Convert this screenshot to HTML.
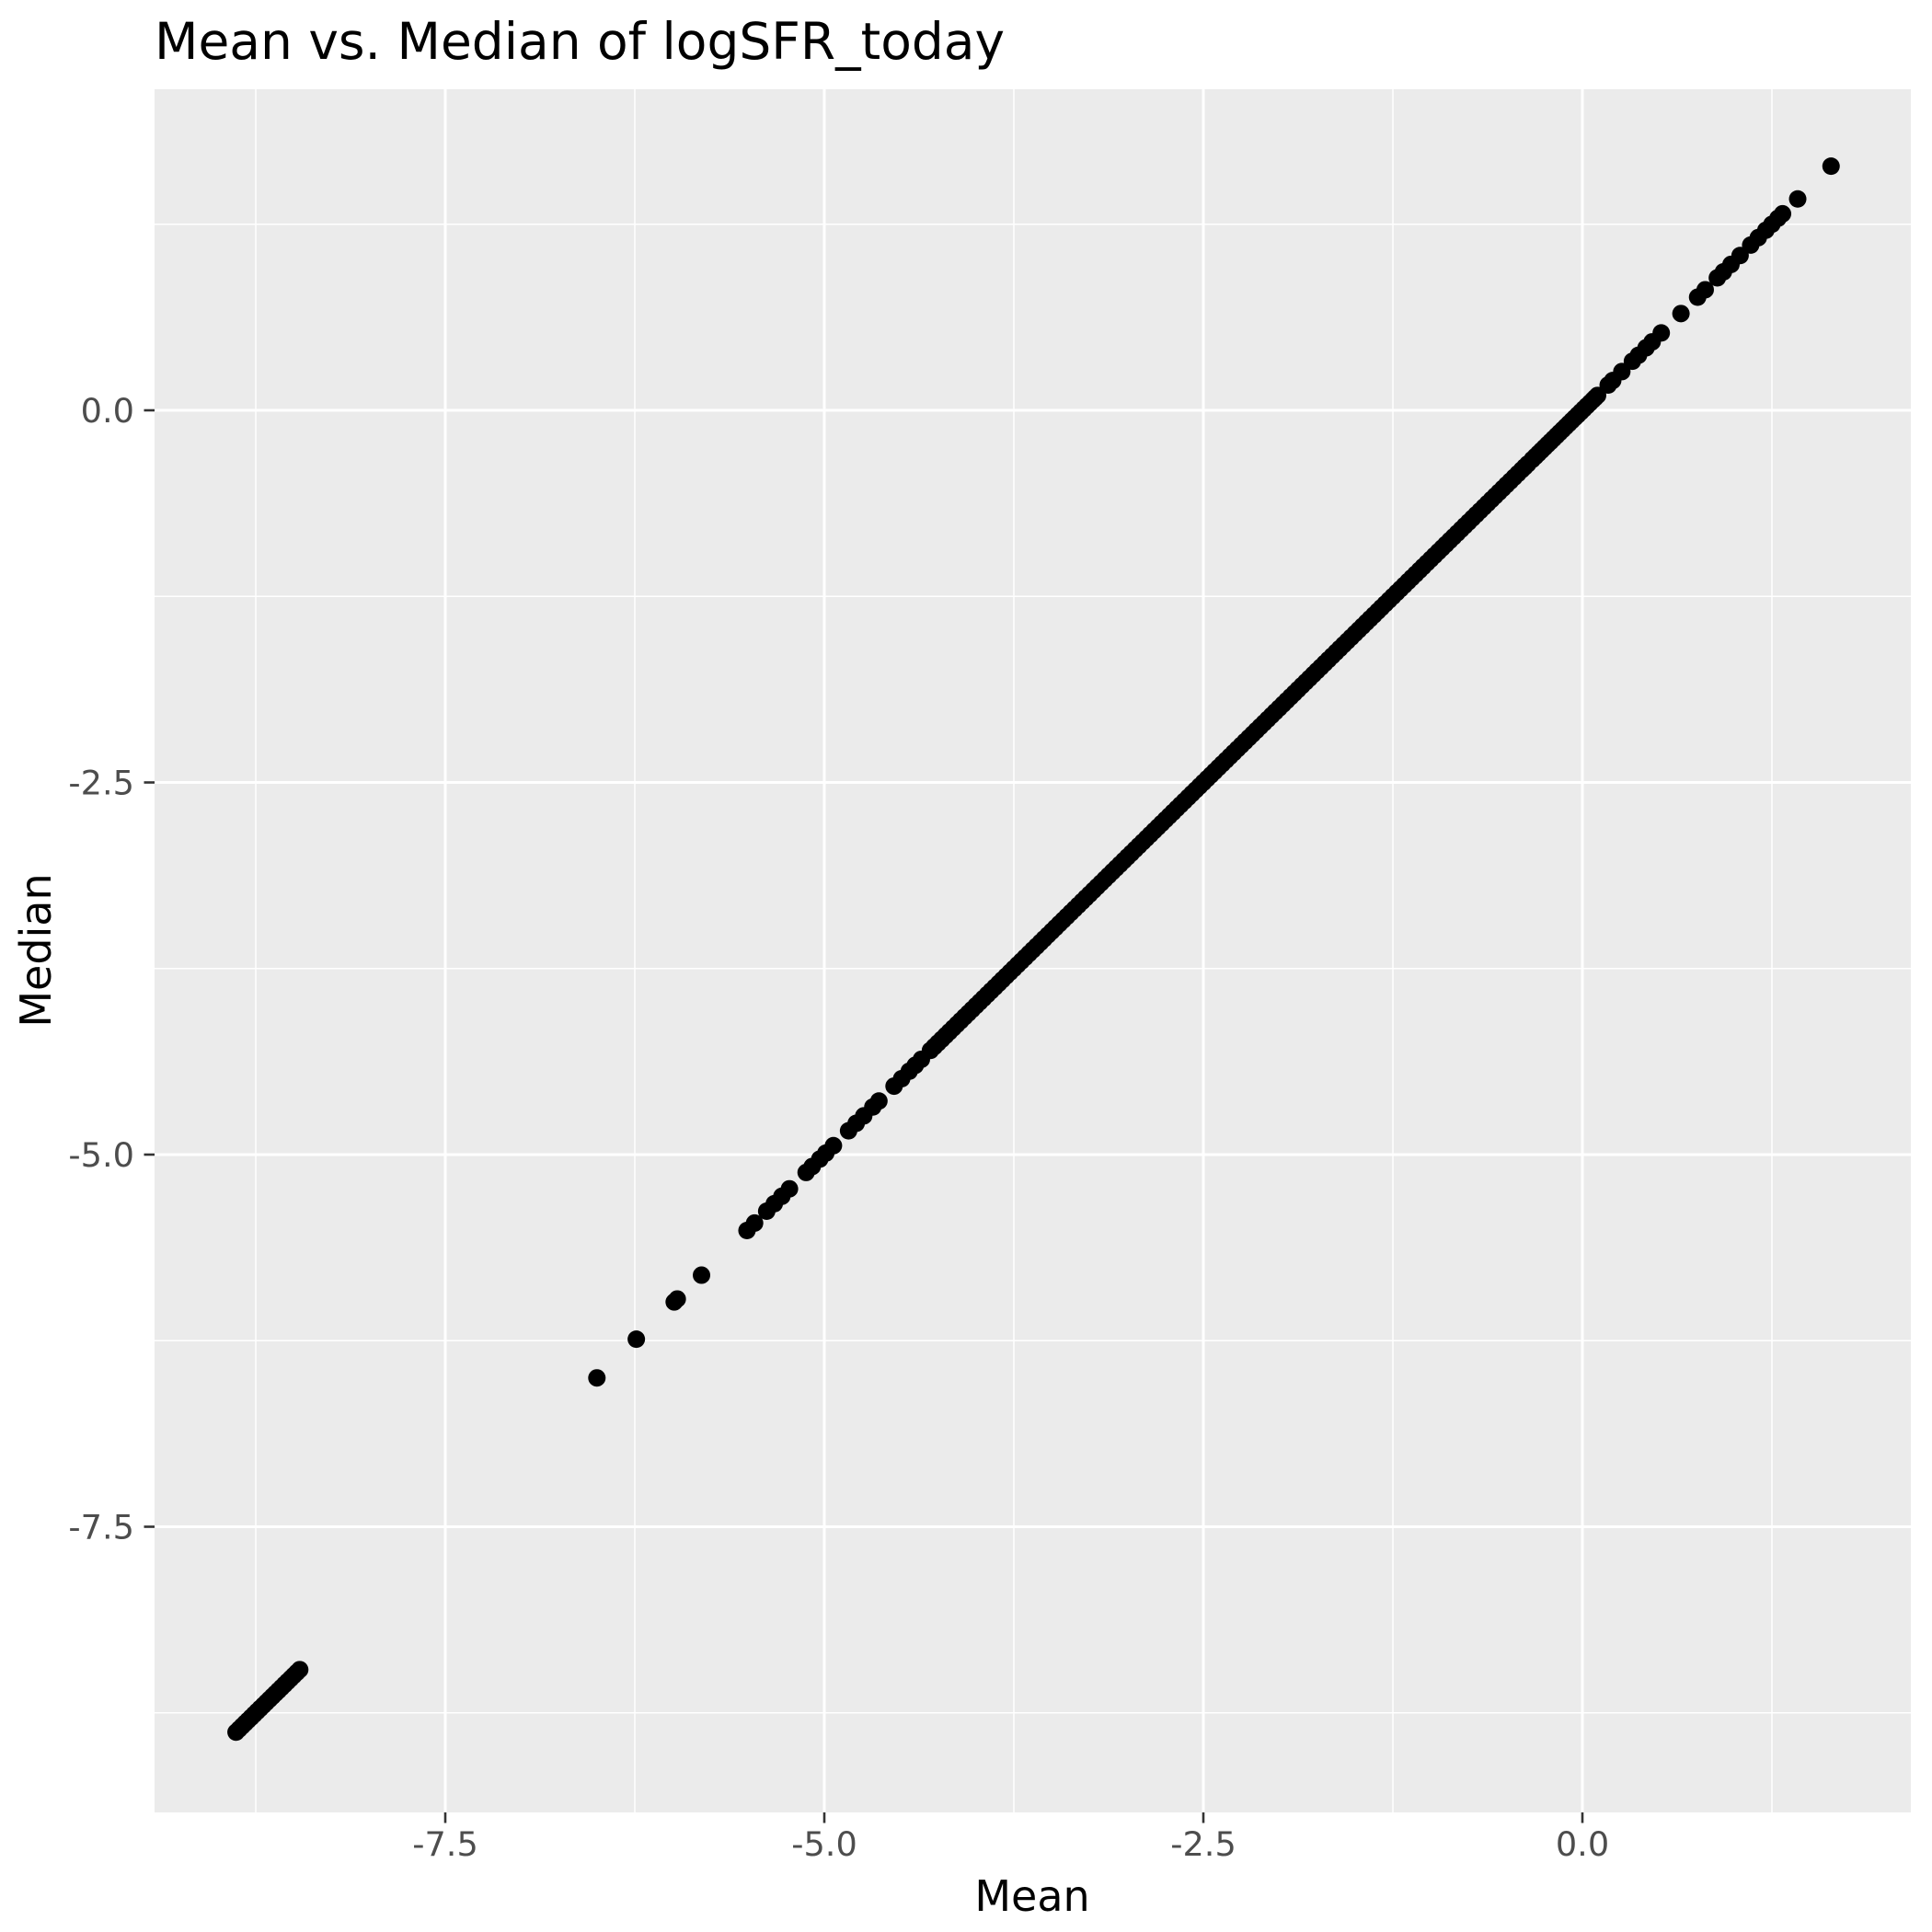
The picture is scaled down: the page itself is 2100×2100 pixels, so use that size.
<!DOCTYPE html>
<html><head><meta charset="utf-8"><style>
html,body{margin:0;padding:0;background:#fff;}
svg{display:block;}
</style></head><body>
<svg id="chart" width="2100" height="2100" xmlns="http://www.w3.org/2000/svg" font-family="'DejaVu Sans','Liberation Sans',sans-serif">
<rect width="2100" height="2100" fill="#fff"/>
<text x="168" y="64" font-size="55" fill="#000">Mean vs. Median of logSFR_today</text>
<rect x="168" y="97" width="1909" height="1873" fill="#ebebeb"/>
<g id="grid"></g>
<g id="points"></g>
<g id="axes"></g>
<text x="1122" y="2077" font-size="46" text-anchor="middle" fill="#000">Mean</text>
<text transform="translate(55,1033) rotate(-90)" font-size="46" text-anchor="middle" fill="#000">Median</text>
</svg>
<script>
const meanLow = [-8.88,-8.86,-8.84,-8.82,-8.80,-8.78,-8.76,-8.74,-8.72,-8.70,-8.68,-8.66,-8.64,-8.62,-8.60,-8.58,-8.56,-8.54,-8.52,-8.50,-8.48,-8.46];
const meanMid = [-6.50,-6.24,-5.99,-5.97,-5.81,-5.51,-5.46,-5.38,-5.33,-5.28,-5.23,-5.12,-5.08,-5.03,-4.99,-4.94,-4.84,-4.79,-4.74,-4.68,-4.64,-4.54,-4.49,-4.44,-4.40,-4.36];
const meanDense = [-4.30,-4.25,-4.20,-4.15,-4.10,-4.05,-4.00,-3.95,-3.90,-3.85,-3.80,-3.75,-3.70,-3.65,-3.60,-3.55,-3.50,-3.45,-3.40,-3.35,-3.30,-3.25,-3.20,-3.15,-3.10,-3.05,-3.00,-2.95,-2.90,-2.85,-2.80,-2.75,-2.70,-2.65,-2.60,-2.55,-2.50,-2.45,-2.40,-2.35,-2.30,-2.25,-2.20,-2.15,-2.10,-2.05,-2.00,-1.95,-1.90,-1.85,-1.80,-1.75,-1.70,-1.65,-1.60,-1.55,-1.50,-1.45,-1.40,-1.35,-1.30,-1.25,-1.20,-1.15,-1.10,-1.05,-1.00,-0.95,-0.90,-0.85,-0.80,-0.75,-0.70,-0.65,-0.60,-0.55,-0.50,-0.45,-0.40,-0.36,-0.33,-0.29,-0.25,-0.21,-0.17,-0.13,-0.09,-0.05,-0.01,0.03,0.07,0.10];
const meanDense2 = [-4.275,-4.225,-4.175,-4.125,-4.075,-4.025,-3.975,-3.925,-3.875,-3.825,-3.775,-3.725,-3.675,-3.625,-3.575,-3.525,-3.475,-3.425,-3.375,-3.325,-3.275,-3.225,-3.175,-3.125,-3.075,-3.025,-2.975,-2.925,-2.875,-2.825,-2.775,-2.725,-2.675,-2.625,-2.575,-2.525,-2.475,-2.425,-2.375,-2.325,-2.275,-2.225,-2.175,-2.125,-2.075,-2.025,-1.975,-1.925,-1.875,-1.825,-1.775,-1.725,-1.675,-1.625,-1.575,-1.525,-1.475,-1.425,-1.375,-1.325,-1.275,-1.225,-1.175,-1.125,-1.075,-1.025,-0.975,-0.925,-0.875,-0.825,-0.775,-0.725,-0.675,-0.625,-0.575,-0.525,-0.475,-0.425,-0.38,-0.31,-0.27,-0.23,-0.19,-0.15,-0.11,-0.07,-0.03,0.01,0.05,0.085];
const meanHigh = [0.17,0.20,0.26,0.33,0.37,0.42,0.46,0.52,0.65,0.76,0.81,0.89,0.93,0.98,1.04,1.11,1.16,1.21,1.25,1.29,1.32,1.42,1.64];
const means = meanLow.concat(meanMid, meanDense, meanDense2, meanHigh);
const medians = means.slice();
const xTicks = [-7.5,-5.0,-2.5,0.0];
const yTicks = [-7.5,-5.0,-2.5,0.0];
const xTickLabels = ["-7.5","-5.0","-2.5","0.0"];
const yTickLabels = ["-7.5","-5.0","-2.5","0.0"];
const xMinor = [-8.75,-6.25,-3.75,-1.25,1.25];
const yMinor = [-8.75,-6.25,-3.75,-1.25,1.25];

const NS = "http://www.w3.org/2000/svg";
const PL = 168, PR = 2077, PT = 97, PB = 1970;
function xs(v){ return 1720 + 164.8 * v; }
function ys(v){ return 446 - 161.8 * v; }
function mk(tag, attrs, parent){
  const e = document.createElementNS(NS, tag);
  for (const k in attrs) e.setAttribute(k, attrs[k]);
  parent.appendChild(e);
  return e;
}
const grid = document.getElementById('grid');
xMinor.forEach(v => {
  const l = mk('line', {x1: xs(v), x2: xs(v), y1: PT, y2: PB, stroke: '#fff', 'stroke-width': 1.5}, grid);
  
  
});
yMinor.forEach(v => {
  const l = mk('line', {x1: PL, x2: PR, y1: ys(v), y2: ys(v), stroke: '#fff', 'stroke-width': 1.5}, grid);
  
  
});
xTicks.forEach(v => {
  const l = mk('line', {x1: xs(v), x2: xs(v), y1: PT, y2: PB, stroke: '#fff', 'stroke-width': 3}, grid);
  
  
});
yTicks.forEach(v => {
  const l = mk('line', {x1: PL, x2: PR, y1: ys(v), y2: ys(v), stroke: '#fff', 'stroke-width': 3}, grid);
  
  
});
const pts = document.getElementById('points');
means.forEach((m, i) => {
  const c = mk('circle', {cx: xs(m), cy: ys(medians[i]), r: 9.5, fill: '#000'}, pts);
  
  
});
const axes = document.getElementById('axes');
xTicks.forEach((v, i) => {
  const t = mk('line', {x1: xs(v), x2: xs(v), y1: PB, y2: PB + 11.5, stroke: '#333', 'stroke-width': 2.6}, axes);
  
  
  const tx = mk('text', {x: xs(v), y: 2017, 'font-size': 36.7, fill: '#4d4d4d', 'text-anchor': 'middle'}, axes);
  tx.textContent = xTickLabels[i];
  
  
});
yTicks.forEach((v, i) => {
  const t = mk('line', {x1: PL - 11.5, x2: PL, y1: ys(v), y2: ys(v), stroke: '#333', 'stroke-width': 2.6}, axes);
  
  
  const tx = mk('text', {x: 146, y: ys(v) + 13, 'font-size': 36.7, fill: '#4d4d4d', 'text-anchor': 'end'}, axes);
  tx.textContent = yTickLabels[i];
  
  
});
</script>
</body></html>
